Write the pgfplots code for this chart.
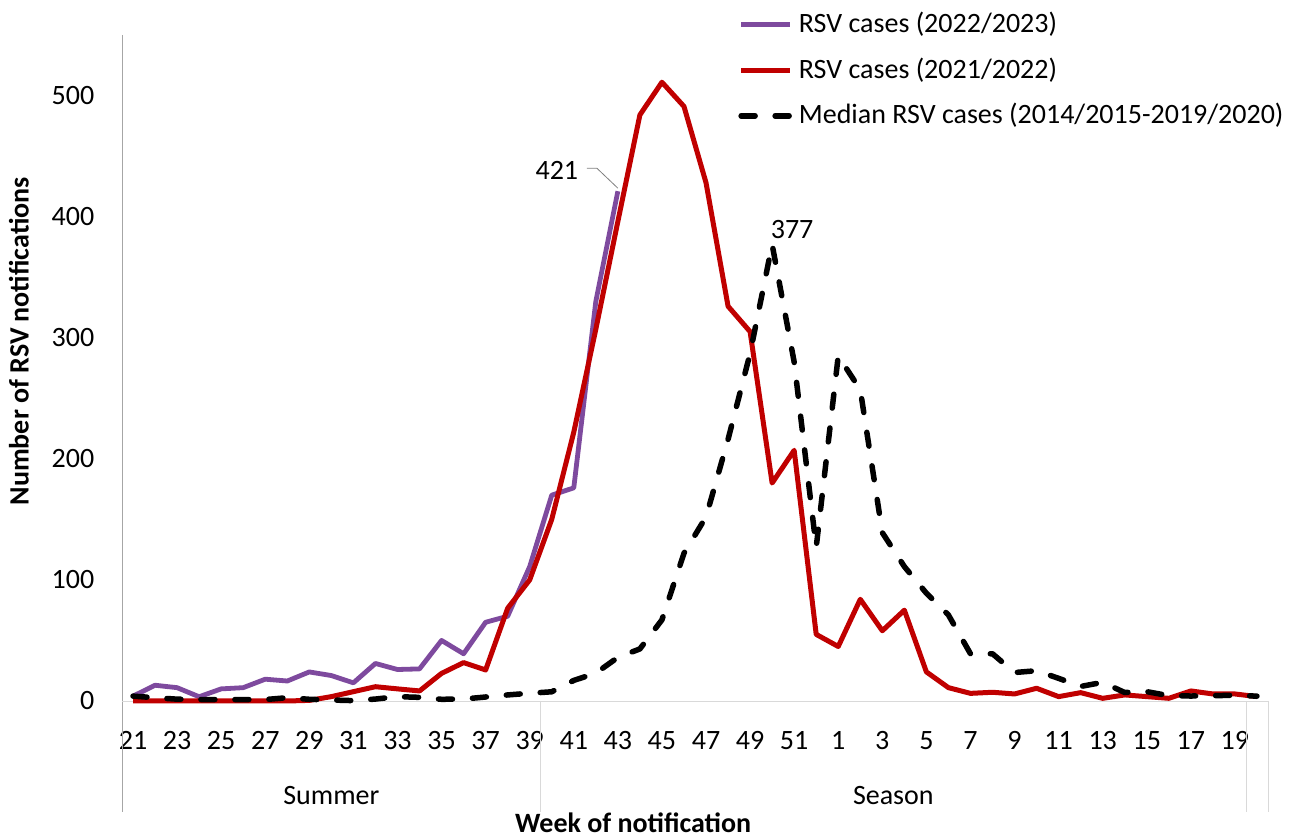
\documentclass[border=0pt]{standalone}
\usepackage{fontspec}
\setmainfont{Carlito}
\usepackage{pgfplots}
\pgfplotsset{compat=1.18}
\definecolor{rsvpurple}{RGB}{126,74,158}
\definecolor{rsvred}{RGB}{192,0,0}
\definecolor{sepgray}{RGB}{217,217,217}
\definecolor{axgray}{RGB}{166,166,166}
\begin{document}
\fontsize{14}{17}\selectfont
\begin{tikzpicture}
\path[use as bounding box] (-61pt,-68.5pt) rectangle (592.5pt,350.5pt);
\begin{axis}[
    at={(0,0)}, anchor=south west,
    scale only axis,
    width=573pt, height=333pt,
    xmin=-0.5, xmax=51.5,
    ymin=0, ymax=550,
    clip=false,
    axis line style={draw=none},
    tick style={draw=none},
    xtick={0,2,...,50},
    xticklabels={21,23,25,27,29,31,33,35,37,39,41,43,45,47,49,51,1,3,5,7,9,11,13,15,17,19},
    ytick={0,100,...,500},
    /pgf/number format/assume math mode=true,
    tick label style={font=\fontsize{14}{17}\selectfont},
    xticklabel style={yshift=-10.3pt},
    yticklabel style={xshift=-9pt},
    xlabel={\bfseries Week of notification},
    ylabel={\bfseries Number of RSV notifications},
    every axis x label/.style={at={(axis description cs:0.446,-0.1835)}, anchor=center, inner sep=0pt, font=\fontsize{14}{17}\selectfont},
    every axis y label/.style={at={(axis description cs:-0.0899,0.54)}, rotate=90, anchor=center, inner sep=0pt, font=\fontsize{14}{17}\selectfont},
    legend style={
        at={(axis description cs:0.5375,1.038)},
        anchor=north west,
        draw=none, fill=none,
        inner sep=0pt,
        row sep=8.5pt,
        font=\fontsize{14}{17}\selectfont,
        nodes={inner sep=1pt},
        /tikz/every odd column/.append style={column sep=2pt},
    },
    legend cell align=left,
    legend image code/.code={\draw[#1] (0pt,0pt) -- (24.5pt,0pt);},
]

% axis lines and category bands
\draw[axgray] (axis cs:-0.5,550) -- ([yshift=-55.5pt]axis cs:-0.5,0);
\draw[sepgray] (axis cs:-0.5,0) -- (axis cs:51.5,0);
\draw[sepgray] (axis cs:18.5,0) -- ([yshift=-55.5pt]axis cs:18.5,0);
\draw[sepgray] (axis cs:50.5,0) -- ([yshift=-55.5pt]axis cs:50.5,0);
\draw[sepgray] (axis cs:51.5,0) -- ([yshift=-55.5pt]axis cs:51.5,0);

% RSV 2022/2023
\addplot[color=rsvpurple, line width=2.4pt, line join=round] table[x=i, y=v] {
i v
0 4
1 13
2 11
3 3.5
4 10
5 11
6 18
7 16.5
8 24
9 21
10 15
11 31
12 26
13 26.5
14 50
15 39
16 65
17 70
18 111
19 170
20 176
21 330
22 421
};
\addlegendentry{RSV cases (2022/2023)}

% RSV 2021/2022
\addplot[color=rsvred, line width=2.5pt, line join=round] table[x=i, y=v] {
i v
0 0
1 0
2 0
3 0
4 0
5 0
6 0
7 0
8 0.5
9 3.6
10 7.7
11 11.8
12 10
13 8.3
14 22.8
15 31.7
16 25.6
17 76.6
18 100
19 150
20 222
21 307
22 396
23 484
24 511
25 491
26 428
27 326
28 305
29 180
30 207
31 55
32 45
33 84
34 58
35 75
36 24
37 11
38 6.3
39 7.2
40 5.8
41 10.5
42 3.6
43 6.9
44 2.2
45 5
46 3.6
47 2.2
48 8.3
49 5.8
50 5.8
51 3.6
};
\addlegendentry{RSV cases (2021/2022)}

% median 2014/2015-2019/2020
\addplot[color=black, line width=2.75pt, line cap=round, line join=round, dash pattern=on 7pt off 10pt] table[x=i, y=v] {
i v
0 4
1 2.7
2 1.5
3 1.2
4 1.2
5 1.2
6 1.2
7 2.7
8 1.4
9 0.8
10 0.3
11 1.6
12 3.6
13 3
14 1.4
15 1.6
16 3.3
17 5
18 6.4
19 7.6
20 17
21 23
22 36
23 43
24 67
25 122
26 152
27 216
28 287
29 377
30 280
31 127
32 285
33 257
34 139
35 111
36 89
37 71
38 39
39 39
40 23.5
41 25
42 18.7
43 12
44 15.4
45 7
46 7.7
47 4.4
48 4.1
49 4.4
50 4.7
51 4
};
\addlegendentry{Median RSV cases (2014/2015-2019/2020)}

% category names
\node at ([yshift=-47.5pt]axis cs:9,0) {Summer};
\node at ([yshift=-47.5pt]axis cs:34.5,0) {Season};

% data labels
\draw[gray, thin] ([xshift=-15.5pt,yshift=11.5pt]axis cs:22,421) -- ([xshift=-10.5pt,yshift=11.5pt]axis cs:22,421) -- ([yshift=1.5pt]axis cs:22,421);
\node at ([xshift=-30.5pt,yshift=10.5pt]axis cs:22,421) {421};
\node at ([xshift=10pt,yshift=7.5pt]axis cs:29,377) {377};

\end{axis}
\end{tikzpicture}
\end{document}
